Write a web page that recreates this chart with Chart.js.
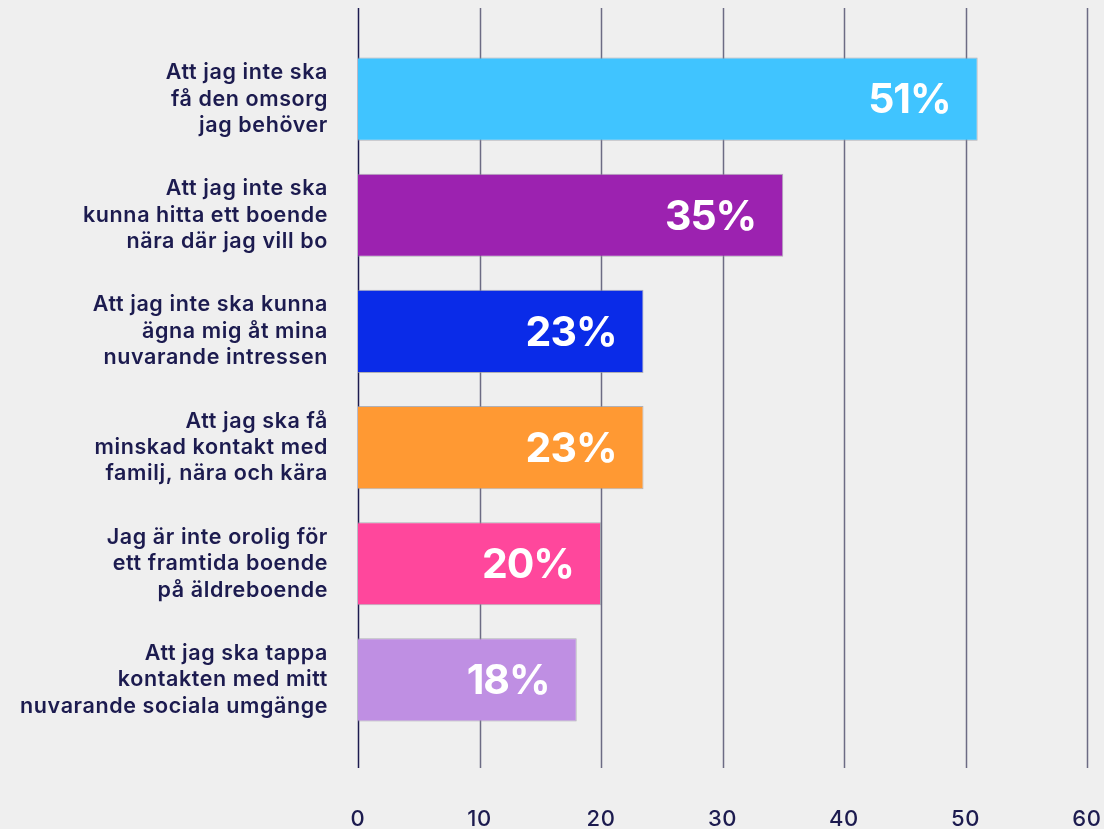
<!DOCTYPE html>
<html lang="sv">

<head>
  <meta charset="UTF-8">
  <title>Oro inför äldreboende</title>
  <script src="https://cdn.jsdelivr.net/npm/chart.js@4.4.1/dist/chart.umd.min.js"></script>
  <style>
    html, body { margin: 0; padding: 0; background: #efefef; }
    #wrap { width: 1104px; height: 829px; }
  </style>
</head>

<body>
  <div id="wrap"><canvas id="myChart"></canvas></div>

  <script>
    // data
    const categories = [
      ["Att jag inte ska", "få den omsorg", "jag behöver"],
      ["Att jag inte ska", "kunna hitta ett boende", "nära där jag vill bo"],
      ["Att jag inte ska kunna", "ägna mig åt mina", "nuvarande intressen"],
      ["Att jag ska få", "minskad kontakt med", "familj, nära och kära"],
      ["Jag är inte orolig för", "ett framtida boende", "på äldreboende"],
      ["Att jag ska tappa", "kontakten med mitt", "nuvarande sociala umgänge"]
    ];
    const values = [51, 35, 23.5, 23.5, 20, 18];
    const valueLabels = ["51%", "35%", "23%", "23%", "20%", "18%"];
    const barColors = ["#40c4ff", "#9c22b0", "#0a2be8", "#ff9933", "#ff479c", "#bf8fe3"];
    const xTicks = [0, 10, 20, 30, 40, 50, 60];

    const navy = "#1c1b4f";

    // slightly wider text for axis labels
    const spacingPlugin = {
      id: 'spacing',
      beforeDraw(chart) { chart.ctx.letterSpacing = "0.6px"; },
      afterDraw(chart) { chart.ctx.letterSpacing = "0px"; }
    };

    // vertical grid lines, longer than the plot area
    const gridPlugin = {
      id: 'longGrid',
      beforeDatasetsDraw(chart) {
        const ctx = chart.ctx;
        const x = chart.scales.x;
        const area = chart.chartArea;
        ctx.save();
        xTicks.forEach(function (t) {
          const px = Math.round(x.getPixelForValue(t)) + 0.5;
          ctx.beginPath();
          ctx.strokeStyle = t === 0 ? navy : "#6c6b84";
          ctx.lineWidth = 1.5;
          ctx.moveTo(px, area.top - 33);
          ctx.lineTo(px, area.bottom + 30);
          ctx.stroke();
        });
        ctx.restore();
      }
    };

    // white percent labels inside the bars
    const valuePlugin = {
      id: 'valueLabels',
      afterDatasetsDraw(chart) {
        const ctx = chart.ctx;
        const meta = chart.getDatasetMeta(0);
        ctx.save();
        ctx.fillStyle = "#ffffff";
        ctx.font = "700 41px Inter";
        ctx.letterSpacing = "-1px";
        ctx.textAlign = "right";
        ctx.textBaseline = "middle";
        meta.data.forEach(function (bar, i) {
          ctx.fillText(valueLabels[i], bar.x - 27, bar.y + 2);
        });
        ctx.restore();
      }
    };

    const ctx = document.getElementById('myChart').getContext('2d');
    const myChart = new Chart(ctx, {
      type: 'bar',
      data: {
        labels: categories,
        datasets: [{
          data: values,
          backgroundColor: barColors,
          borderColor: "rgba(150,150,160,0.7)",
          borderWidth: 1,
          borderSkipped: 'start',
          barPercentage: 0.716,
          categoryPercentage: 1
        }]
      },
      options: {
        indexAxis: 'y',
        responsive: true,
        maintainAspectRatio: false,
        animation: false,
        layout: { padding: { top: 41, right: 17, left: 0, bottom: 0 } },
        plugins: {
          legend: { display: false },
          tooltip: { enabled: false }
        },
        scales: {
          x: {
            min: 0,
            max: 60,
            afterBuildTicks(scale) {
              scale.ticks = xTicks.map(v => ({ value: v }));
            },
            afterFit(scale) {
              scale.height = 91;
              scale.paddingLeft = 0;
              scale.paddingRight = 0;
            },
            grid: { display: false, drawTicks: false },
            border: { display: false },
            ticks: {
              color: navy,
              padding: 68,
              maxRotation: 0,
              font: { family: "Inter", size: 22, weight: '500' }
            }
          },
          y: {
            afterFit(scale) {
              scale.width = 358;
              scale.paddingTop = 0;
              scale.paddingBottom = 0;
            },
            grid: { display: false, drawTicks: false },
            border: { display: false },
            ticks: {
              color: navy,
              padding: 30,
              font: { family: "Inter", size: 21.5, weight: '600', lineHeight: 1.23 }
            }
          }
        }
      },
      plugins: [spacingPlugin, gridPlugin, valuePlugin]
    });
  </script>

</body>

</html>
